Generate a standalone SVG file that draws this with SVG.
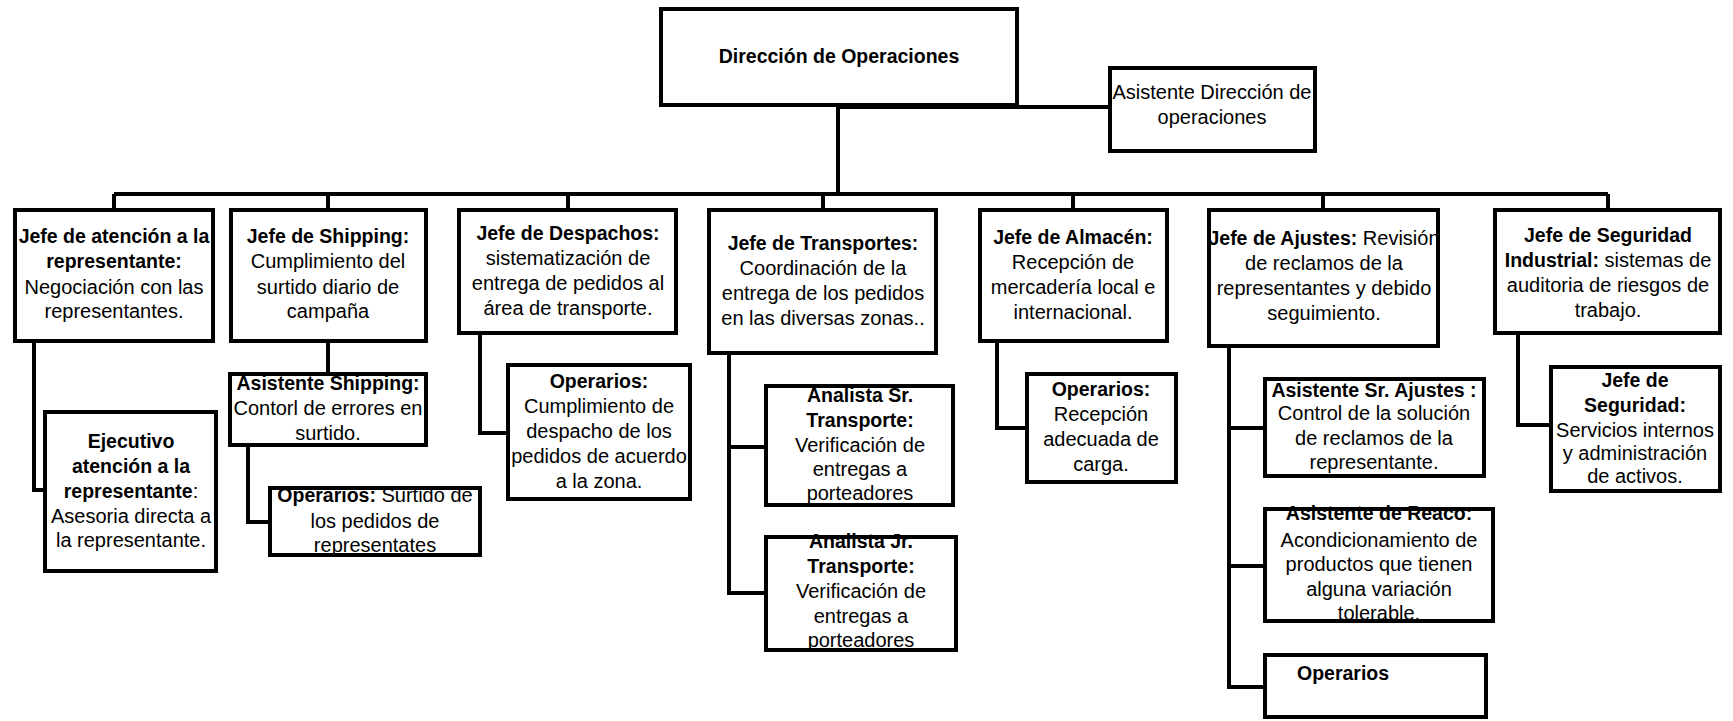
<svg xmlns="http://www.w3.org/2000/svg" width="1733" height="721" viewBox="0 0 1733 721">
<style>
.bg{fill:#fff;stroke:none}
.bd{fill:none;stroke:#000;stroke-width:4}
.ln{fill:none;stroke:#000;stroke-width:4}
text{font-family:"Liberation Sans",Arial,sans-serif;font-size:20px;fill:#000;text-anchor:middle}
.b{font-weight:bold;font-size:19.5px}
</style>
<defs>
<rect id="r-top" x="661" y="9" width="356" height="96"/>
<rect id="r-adir" x="1110" y="68" width="205" height="83"/>
<rect id="r-aten" x="15" y="210" width="198" height="131"/>
<rect id="r-ejec" x="45" y="412" width="171" height="159"/>
<rect id="r-ship" x="231" y="210" width="195" height="131"/>
<rect id="r-aship" x="230" y="374" width="196" height="71"/>
<rect id="r-oship" x="270" y="488" width="210" height="67"/>
<rect id="r-desp" x="459" y="210" width="217" height="123"/>
<rect id="r-odesp" x="508" y="365" width="182" height="134"/>
<rect id="r-trans" x="709" y="210" width="227" height="143"/>
<rect id="r-ansr" x="766" y="386" width="187" height="119"/>
<rect id="r-anjr" x="766" y="537" width="190" height="113"/>
<rect id="r-alm" x="980" y="210" width="187" height="131"/>
<rect id="r-oalm" x="1027" y="374" width="149" height="108"/>
<rect id="r-aju" x="1209" y="210" width="229" height="136"/>
<rect id="r-asaj" x="1265" y="379" width="219" height="97"/>
<rect id="r-reaco" x="1265" y="509" width="228" height="112"/>
<rect id="r-oaj" x="1265" y="655" width="221" height="62"/>
<rect id="r-segi" x="1495" y="210" width="225" height="123"/>
<rect id="r-seg" x="1551" y="367" width="169" height="124"/>
</defs>
<rect width="1733" height="721" fill="#fff"/>
<g id="connectors">
<path class="ln" d="M838 105V194M838 107H1110M114 194H1608M114 194V210M328 194V210M568 194V210M823 194V210M1073 194V210M1323 194V210M1608 194V210"/>
<path class="ln" d="M34 341V490H45M328 341V374M248 445V522H270M480 333V433H508M729 353V593H766M729 447H766M997 341V428H1027M1229 346V687H1265M1229 428H1265M1229 566H1265M1518 333V425H1551"/>
</g>
<g id="direccion">
<use href="#r-top" class="bg"/>
<text x="839" y="63" class="b">Dirección de Operaciones</text>
<use href="#r-top" class="bd"/>
</g>
<g id="asistente-direccion">
<use href="#r-adir" class="bg"/>
<text x="1212" y="99">Asistente Dirección de</text>
<text x="1212" y="124">operaciones</text>
<use href="#r-adir" class="bd"/>
</g>
<g id="jefe-atencion">
<use href="#r-aten" class="bg"/>
<text x="114" y="243" class="b">Jefe de atención a la</text>
<text x="114" y="268" class="b">representante:</text>
<text x="114" y="294">Negociación con las</text>
<text x="114" y="318">representantes.</text>
<use href="#r-aten" class="bd"/>
</g>
<g id="ejecutivo-atencion">
<use href="#r-ejec" class="bg"/>
<text x="131" y="448" class="b">Ejecutivo</text>
<text x="131" y="473" class="b">atención a la</text>
<text x="131" y="498"><tspan class="b">representante</tspan>:</text>
<text x="131" y="523">Asesoria directa a</text>
<text x="131" y="547">la representante.</text>
<use href="#r-ejec" class="bd"/>
</g>
<g id="jefe-shipping">
<use href="#r-ship" class="bg"/>
<text x="328" y="243" class="b">Jefe de Shipping:</text>
<text x="328" y="268">Cumplimiento del</text>
<text x="328" y="294">surtido diario de</text>
<text x="328" y="318">campaña</text>
<use href="#r-ship" class="bd"/>
</g>
<g id="asistente-shipping">
<use href="#r-aship" class="bg"/>
<text x="328" y="390" class="b">Asistente Shipping:</text>
<text x="328" y="415">Contorl de errores en</text>
<text x="328" y="440">surtido.</text>
<use href="#r-aship" class="bd"/>
</g>
<g id="operarios-shipping">
<use href="#r-oship" class="bg"/>
<text x="375" y="502"><tspan class="b">Operarios:</tspan> Surtido de</text>
<text x="375" y="528">los pedidos de</text>
<text x="375" y="552">representates</text>
<use href="#r-oship" class="bd"/>
</g>
<g id="jefe-despachos">
<use href="#r-desp" class="bg"/>
<text x="568" y="240" class="b">Jefe de Despachos:</text>
<text x="568" y="265">sistematización de</text>
<text x="568" y="290">entrega de pedidos al</text>
<text x="568" y="315">área de transporte.</text>
<use href="#r-desp" class="bd"/>
</g>
<g id="operarios-despachos">
<use href="#r-odesp" class="bg"/>
<text x="599" y="388" class="b">Operarios:</text>
<text x="599" y="413">Cumplimiento de</text>
<text x="599" y="438">despacho de los</text>
<text x="599" y="463">pedidos de acuerdo</text>
<text x="599" y="488">a la zona.</text>
<use href="#r-odesp" class="bd"/>
</g>
<g id="jefe-transportes">
<use href="#r-trans" class="bg"/>
<text x="823" y="250" class="b">Jefe de Transportes:</text>
<text x="823" y="275">Coordinación de la</text>
<text x="823" y="300">entrega de los pedidos</text>
<text x="823" y="325">en las diversas zonas..</text>
<use href="#r-trans" class="bd"/>
</g>
<g id="analista-sr">
<use href="#r-ansr" class="bg"/>
<text x="860" y="402" class="b">Analista Sr.</text>
<text x="860" y="427" class="b">Transporte:</text>
<text x="860" y="452">Verificación de</text>
<text x="860" y="476">entregas a</text>
<text x="860" y="500">porteadores</text>
<use href="#r-ansr" class="bd"/>
</g>
<g id="analista-jr">
<use href="#r-anjr" class="bg"/>
<text x="861" y="548" class="b">Analista Jr.</text>
<text x="861" y="573" class="b">Transporte:</text>
<text x="861" y="598">Verificación de</text>
<text x="861" y="623">entregas a</text>
<text x="861" y="647">porteadores</text>
<use href="#r-anjr" class="bd"/>
</g>
<g id="jefe-almacen">
<use href="#r-alm" class="bg"/>
<text x="1073" y="244" class="b">Jefe de Almacén:</text>
<text x="1073" y="269">Recepción de</text>
<text x="1073" y="294">mercadería local e</text>
<text x="1073" y="319">internacional.</text>
<use href="#r-alm" class="bd"/>
</g>
<g id="operarios-almacen">
<use href="#r-oalm" class="bg"/>
<text x="1101" y="396" class="b">Operarios:</text>
<text x="1101" y="421">Recepción</text>
<text x="1101" y="446">adecuada de</text>
<text x="1101" y="471">carga.</text>
<use href="#r-oalm" class="bd"/>
</g>
<g id="jefe-ajustes">
<use href="#r-aju" class="bg"/>
<text x="1324" y="245"><tspan class="b">Jefe de Ajustes:</tspan> Revisión</text>
<text x="1324" y="270">de reclamos de la</text>
<text x="1324" y="295">representantes y debido</text>
<text x="1324" y="320">seguimiento.</text>
<use href="#r-aju" class="bd"/>
</g>
<g id="asistente-sr-ajustes">
<use href="#r-asaj" class="bg"/>
<text x="1374" y="397" class="b">Asistente Sr. Ajustes :</text>
<text x="1374" y="420">Control de la solución</text>
<text x="1374" y="445">de reclamos de la</text>
<text x="1374" y="469">representante.</text>
<use href="#r-asaj" class="bd"/>
</g>
<g id="asistente-reaco">
<use href="#r-reaco" class="bg"/>
<text x="1379" y="520" class="b">Asistente de Reaco:</text>
<text x="1379" y="547">Acondicionamiento de</text>
<text x="1379" y="571">productos que tienen</text>
<text x="1379" y="596">alguna variación</text>
<text x="1379" y="620">tolerable.</text>
<use href="#r-reaco" class="bd"/>
</g>
<g id="operarios-ajustes">
<use href="#r-oaj" class="bg"/>
<text x="1297" y="680" class="b" style="text-anchor:start">Operarios</text>
<use href="#r-oaj" class="bd"/>
</g>
<g id="jefe-seguridad-industrial">
<use href="#r-segi" class="bg"/>
<text x="1608" y="242" class="b">Jefe de Seguridad</text>
<text x="1608" y="267"><tspan class="b">Industrial:</tspan> sistemas de</text>
<text x="1608" y="292">auditoria de riesgos de</text>
<text x="1608" y="317">trabajo.</text>
<use href="#r-segi" class="bd"/>
</g>
<g id="jefe-seguridad">
<use href="#r-seg" class="bg"/>
<text x="1635" y="387" class="b">Jefe de</text>
<text x="1635" y="412" class="b">Seguridad:</text>
<text x="1635" y="437">Servicios internos</text>
<text x="1635" y="460">y administración</text>
<text x="1635" y="483">de activos.</text>
<use href="#r-seg" class="bd"/>
</g>
</svg>
